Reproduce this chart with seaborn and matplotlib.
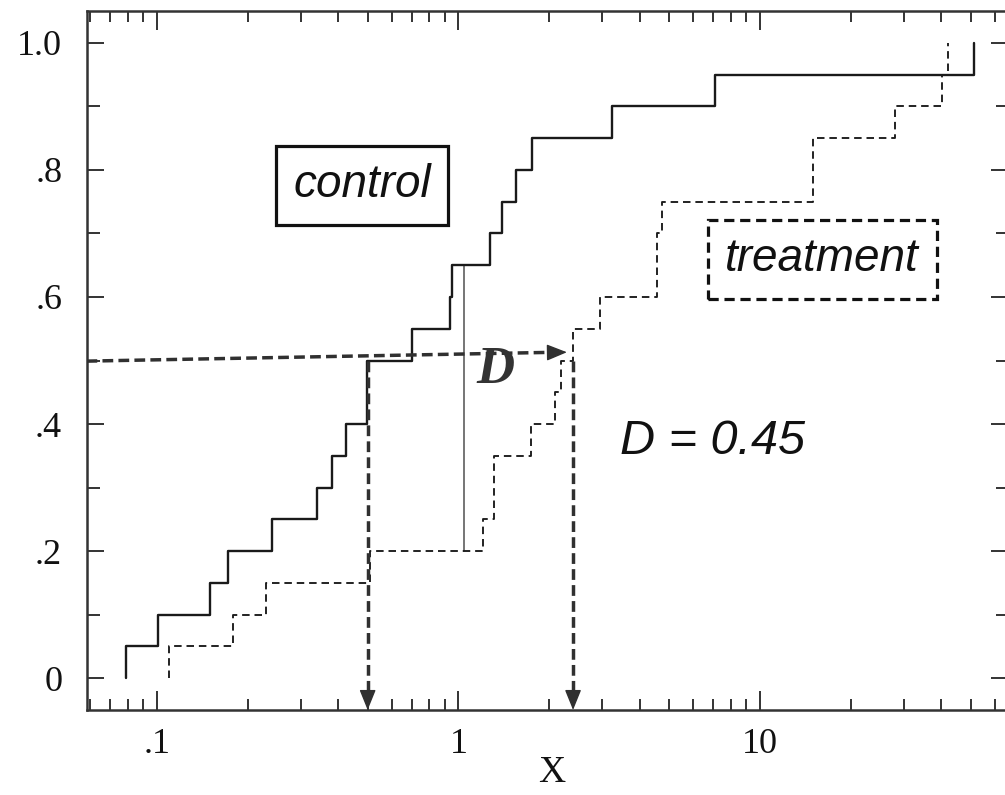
import numpy as np
import pandas as pd
import matplotlib
matplotlib.use("Agg")
import matplotlib.pyplot as plt
import seaborn as sns
from matplotlib.ticker import FixedLocator, FixedFormatter, NullFormatter, MultipleLocator

# Two samples whose empirical CDFs are compared (Kolmogorov-Smirnov)
control = [0.079, 0.1005, 0.150, 0.1715, 0.241, 0.340, 0.380, 0.424, 0.498, 0.498,
           0.700, 0.939, 0.952, 1.268, 1.397, 1.558, 1.759, 3.22, 7.07, 51.4]
treatment = [0.110, 0.179, 0.230, 0.509, 1.209, 1.314, 1.314, 1.736, 2.09, 2.196,
             2.40, 2.946, 4.55, 4.55, 4.72, 15.0, 15.0, 28.0, 40.3, 41.9]

x_ticks = [0.1, 1, 10]
x_tick_labels = [".1", "1", "10"]
y_ticks = [0, 0.2, 0.4, 0.6, 0.8, 1.0]
y_tick_labels = ["0", ".2", ".4", ".6", ".8", "1.0"]

gap_x = 1.04              # x where the largest vertical gap D is measured
half_level = 0.5          # cumulative level
half_x = [0.50, 2.40]     # where each curve reaches that level
arrow_tip_x = 2.29        # end of the horizontal reading arrow

XLIM = (0.0584, 66.5)
YLIM = (-0.05, 1.05)

sns.set_style("ticks")
plt.rcParams["font.family"] = ["Liberation Serif", "DejaVu Serif"]

INK = "#1a1a1a"
ARROW = "#303030"
HAND = ["Liberation Sans", "DejaVu Sans"]

fig = plt.figure(figsize=(10.05, 7.95), dpi=100)
ax = fig.add_axes([86.5 / 1005, 1 - 710 / 795, (1008 - 86.5) / 1005, (710 - 11) / 795])
ax.set_xscale("log")


def ecdf_steps(values, **kw):
    """Draw an ECDF that starts with a riser at the first observation."""
    sns.ecdfplot(x=values, ax=ax, **kw)
    line = ax.lines[-1]
    xs = np.asarray(line.get_xdata(), dtype=float).copy()
    ys = np.asarray(line.get_ydata(), dtype=float).copy()
    xs[0] = xs[1]
    ys[0] = 0.0
    line.set_data(xs, ys)


ecdf_steps(control, color=INK, lw=1.7, zorder=3)
ecdf_steps(treatment, color=INK, lw=1.35, linestyle=(0, (4.0, 2.6)), zorder=3)

# Vertical gap between the two curves at gap_x
ctrl_sorted = np.sort(control)
trt_sorted = np.sort(treatment)
f_ctrl = np.searchsorted(ctrl_sorted, gap_x, side="right") / len(ctrl_sorted)
f_trt = np.searchsorted(trt_sorted, gap_x, side="right") / len(trt_sorted)
d_stat = f_ctrl - f_trt
ax.plot([gap_x, gap_x], [f_trt, f_ctrl], color="#6a6a6a", lw=1.3, zorder=2)
ax.text(1.327, 0.485, "D", ha="center", va="center", fontsize=38,
        fontweight="bold", fontstyle="italic", color="#333333", zorder=5)

# Dashed reading arrows
dash_kw = dict(color=ARROW, lw=2.5, linestyle=(0, (3.1, 1.5)), zorder=4,
               solid_capstyle="butt", dash_capstyle="butt")
head_kw = dict(arrowstyle="-|>,head_length=0.42,head_width=0.17", mutation_scale=30,
               color=ARROW, lw=1, shrinkA=0, shrinkB=0)
tip_y = half_level + 0.013
ax.plot([XLIM[0], arrow_tip_x / 1.08], [half_level - 0.001, tip_y], **dash_kw)
ax.annotate("", xy=(arrow_tip_x, tip_y), xytext=(arrow_tip_x / 1.1, tip_y - 0.0003),
            arrowprops=head_kw, zorder=5)
for hx in half_x:
    ax.plot([hx, hx], [half_level, YLIM[0] + 0.02], **dash_kw)
    ax.annotate("", xy=(hx, YLIM[0]), xytext=(hx, YLIM[0] + 0.03),
                arrowprops=head_kw, zorder=5)

# Curve labels
ax.text(0.479, 0.776, "control", ha="center", va="center", fontsize=33,
        fontstyle="italic", family=HAND, color="#111111",
        bbox=dict(boxstyle="square,pad=0.38", fc="white", ec="#111111", lw=2.3))
ax.text(16.1, 0.659, "treatment", ha="center", va="center", fontsize=33,
        fontstyle="italic", family=HAND, color="#111111",
        bbox=dict(boxstyle="square,pad=0.38", fc="white", ec="#111111", lw=2.3,
                  linestyle=(0, (3.2, 1.8))))
ax.text(6.98, 0.373, f"D = {d_stat:.2f}", ha="center", va="center", fontsize=35,
        fontstyle="italic", family=HAND, color="#111111")

# Axes, ticks and labels
ax.set_xlim(*XLIM)
ax.set_ylim(*YLIM)
ax.xaxis.set_major_locator(FixedLocator(x_ticks))
ax.xaxis.set_major_formatter(FixedFormatter(x_tick_labels))
ax.xaxis.set_minor_formatter(NullFormatter())
ax.yaxis.set_major_locator(FixedLocator(y_ticks))
ax.yaxis.set_major_formatter(FixedFormatter(y_tick_labels))
ax.yaxis.set_minor_locator(MultipleLocator(0.1))

ax.tick_params(axis="both", which="both", direction="in", top=True, right=True,
               width=1.4, color="#333333", labelsize=26, labelcolor="#111111")
ax.tick_params(axis="x", which="major", length=13.5, pad=13)
ax.tick_params(axis="x", which="minor", length=8)
ax.tick_params(axis="y", which="major", length=12, pad=17.5)
ax.tick_params(axis="y", which="minor", length=9)
for sp in ax.spines.values():
    sp.set_linewidth(1.8)
    sp.set_color("#333333")

ax.set_xlabel("X", fontsize=27, labelpad=-4, color="#111111")
ax.xaxis.label.set_x(0.505)
ax.set_ylabel("")

fig.savefig("out.png", dpi=100)
